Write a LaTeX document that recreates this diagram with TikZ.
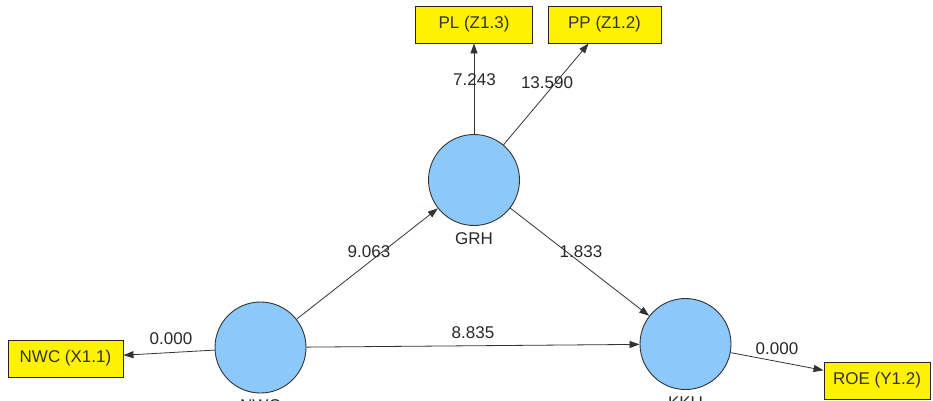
\documentclass[tikz,border=0pt]{standalone}
\usepackage{fontspec}
\setmainfont{Liberation Sans}
\usetikzlibrary{arrows.meta,positioning}
\definecolor{lvblue}{RGB}{140,200,250}
\definecolor{txtgrey}{RGB}{40,40,40}

\begin{document}
\begin{tikzpicture}[x=1pt,y=-1pt,
  font=\fontsize{17}{20}\selectfont,
  lv/.style={circle,draw=black!80,fill=lvblue,minimum size=91pt,inner sep=0pt,line width=0.9pt},
  ind/.style={draw=black!85,fill=yellow,minimum height=37pt,text=black!80,line width=0.9pt},
  link/.style={->,draw=black!80,line width=0.8pt},
  >={Triangle[length=10pt,width=7pt]}]
  \useasboundingbox (0,0) rectangle (933,400);

  \node [lv] (G) at (474,180) {};
  \node [lv] (N) at (260.5,347.5) {};
  \node [lv] (K) at (685.5,344) {};

  \node [below=3pt of G, text=txtgrey] (GL) {GRH};
  \node [below=3pt of N, text=txtgrey] (NL) {NWC};
  \node [below=3pt of K, text=txtgrey] (KL) {KKU};

  \node [ind,minimum width=117pt] (Z3) at (474,24.5) {PL (Z1.3)};
  \node [ind,minimum width=113pt] (Z2) at (604.5,24.5) {PP (Z1.2)};
  \node [ind,minimum width=115pt] (X1) at (65.5,358.5) {NWC (X1.1)};
  \node [ind,minimum width=106pt] (Y1) at (877,380.5) {ROE (Y1.2)};

  \draw [link] (G) -- (Z3) ;
  \draw [link] (G) -- (Z2) ;
  \draw [link] (N) -- (G) ;
  \draw [link] (G) -- (K) ;
  \draw [link] (N) -- (K) ;
  \draw [link] (N) -- (X1) ;
  \draw [link] (K) -- (Y1) ;

  % path coefficients
  \node [text=txtgrey] (c1) at (474.5,80) {7.243};
  \node [text=txtgrey] (c2) at (547,83) {13.590};
  \node [text=txtgrey] (c3) at (369,252) {9.063};
  \node [text=txtgrey] (c4) at (581,252) {1.833};
  \node [text=txtgrey] (c5) at (473,333) {8.835};
  \node [text=txtgrey] (c6) at (171,339) {0.000};
  \node [text=txtgrey] (c7) at (777,349) {0.000};
\end{tikzpicture}
\end{document}
